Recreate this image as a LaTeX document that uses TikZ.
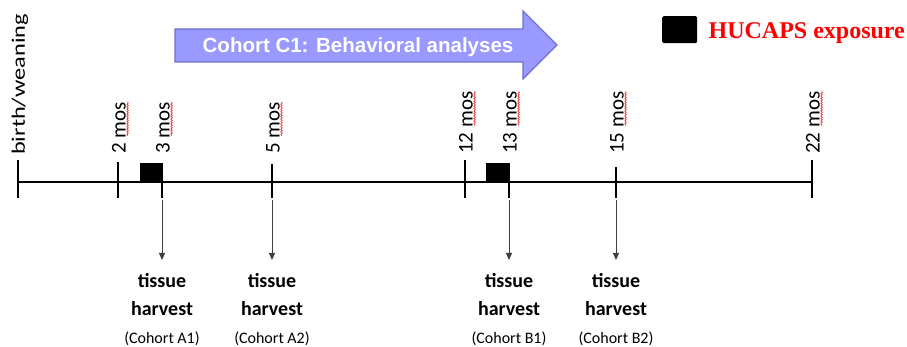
\documentclass[tikz,border=0pt]{standalone}
\usepackage{fontspec}
\setmainfont{Carlito}
\newfontfamily\arialfont{Liberation Sans}
\newfontfamily\timesfont{Liberation Serif}
\usepackage{graphicx}
\usetikzlibrary{positioning,arrows.meta,decorations.pathmorphing}
\definecolor{C1fill}{RGB}{153,153,255}
\definecolor{C1edge}{RGB}{112,112,204}
\definecolor{spellred}{RGB}{235,40,40}
\tikzset{
  timeline/.style={line width=2.8pt},
  tickmark/.style={line width=2.2pt},
  exposure/.style={fill=black, inner sep=0pt, minimum width=22pt, minimum height=19pt},
  moslabel/.style={rotate=90, anchor=west, inner sep=0pt, font=\fontsize{21}{24}\selectfont},
  spell/.style={spellred, line width=0.6pt, decorate, decoration={snake, amplitude=0.8pt, segment length=2.5pt}},
  harvestarrow/.style={black!75, line width=0.8pt, -{Triangle[length=7pt,width=6pt]}},
  harvestlabel/.style={align=center, inner sep=0pt, font=\bfseries\fontsize{20}{28}\selectfont},
}
\newcommand{\cohortfont}{\mdseries\fontsize{16}{28}\selectfont}
\newcommand{\monthtick}[4]{% x, top of tick, name, months
  \coordinate (#3) at (#1,182);
  \draw[tickmark] (#1,#2) -- (#1,198);
  \node[moslabel] (#3l) at (#1+1,154) {#4 mos};
  \draw[spell] ([xshift=1.5pt]#3l.south east) -- ++(0,34);
}
\newcommand{\harvest}[3]{% tick, name, cohort
  \coordinate (#1top) at ([yshift=-18pt]#1);
  \coordinate (#1tip) at ([yshift=-78pt]#1);
  \draw[harvestarrow] (#1top) -- (#1tip);
  \node[harvestlabel, below=13pt of #1tip] (#2) {tissue\\harvest\\{\cohortfont (#3)}};
}

\begin{document}
\begin{tikzpicture}[x=1pt,y=-1pt]
\useasboundingbox (0,0) rectangle (907,347);
% behavioural cohort arrow
\draw[fill=C1fill, draw=C1edge, line width=1.2pt] (175,29) -- (523,29) -- (523,11) -- (557,45) -- (523,79) -- (523,62) -- (175,62) -- cycle;
\node[text=white, anchor=base, font=\arialfont\bfseries\fontsize{20.5}{24}\selectfont] (cohortC1) at (358,53) {Cohort C1: Behavioral analyses};
% legend
\node[exposure, minimum width=35pt, minimum height=27pt, rounded corners=1.5pt, anchor=north west] (key) at (662,16) {};
\node[right=11pt of key, yshift=-3pt, inner sep=0pt, text=red, font=\timesfont\bfseries\fontsize{24}{28}\selectfont] (keytext) {HUCAPS exposure};
% time line
\coordinate (m0) at (18,182);
\draw[tickmark] (18,160) -- (18,198);
\node[moslabel] (m0l) at (20,155) {\fontsize{19}{22}\selectfont\scalebox{1.28}[1]{birth/weaning}};
\monthtick{118}{162}{m2}{2}
\monthtick{162}{163}{m3}{3}
\monthtick{272}{164}{m5}{5}
\monthtick{465}{160}{m12}{12}
\monthtick{509}{163}{m13}{13}
\monthtick{616}{167}{m15}{15}
\monthtick{812}{160}{m22}{22}
\draw[timeline] (m0) -- (m22);
\node[exposure, anchor=south east] (hx1) at (m3) {};
\node[exposure, anchor=south east, minimum width=23pt] (hx2) at (m13) {};
% harvests
\harvest{m3}{hA1}{Cohort A1}
\harvest{m5}{hA2}{Cohort A2}
\harvest{m13}{hB1}{Cohort B1}
\harvest{m15}{hB2}{Cohort B2}
\end{tikzpicture}
\end{document}
